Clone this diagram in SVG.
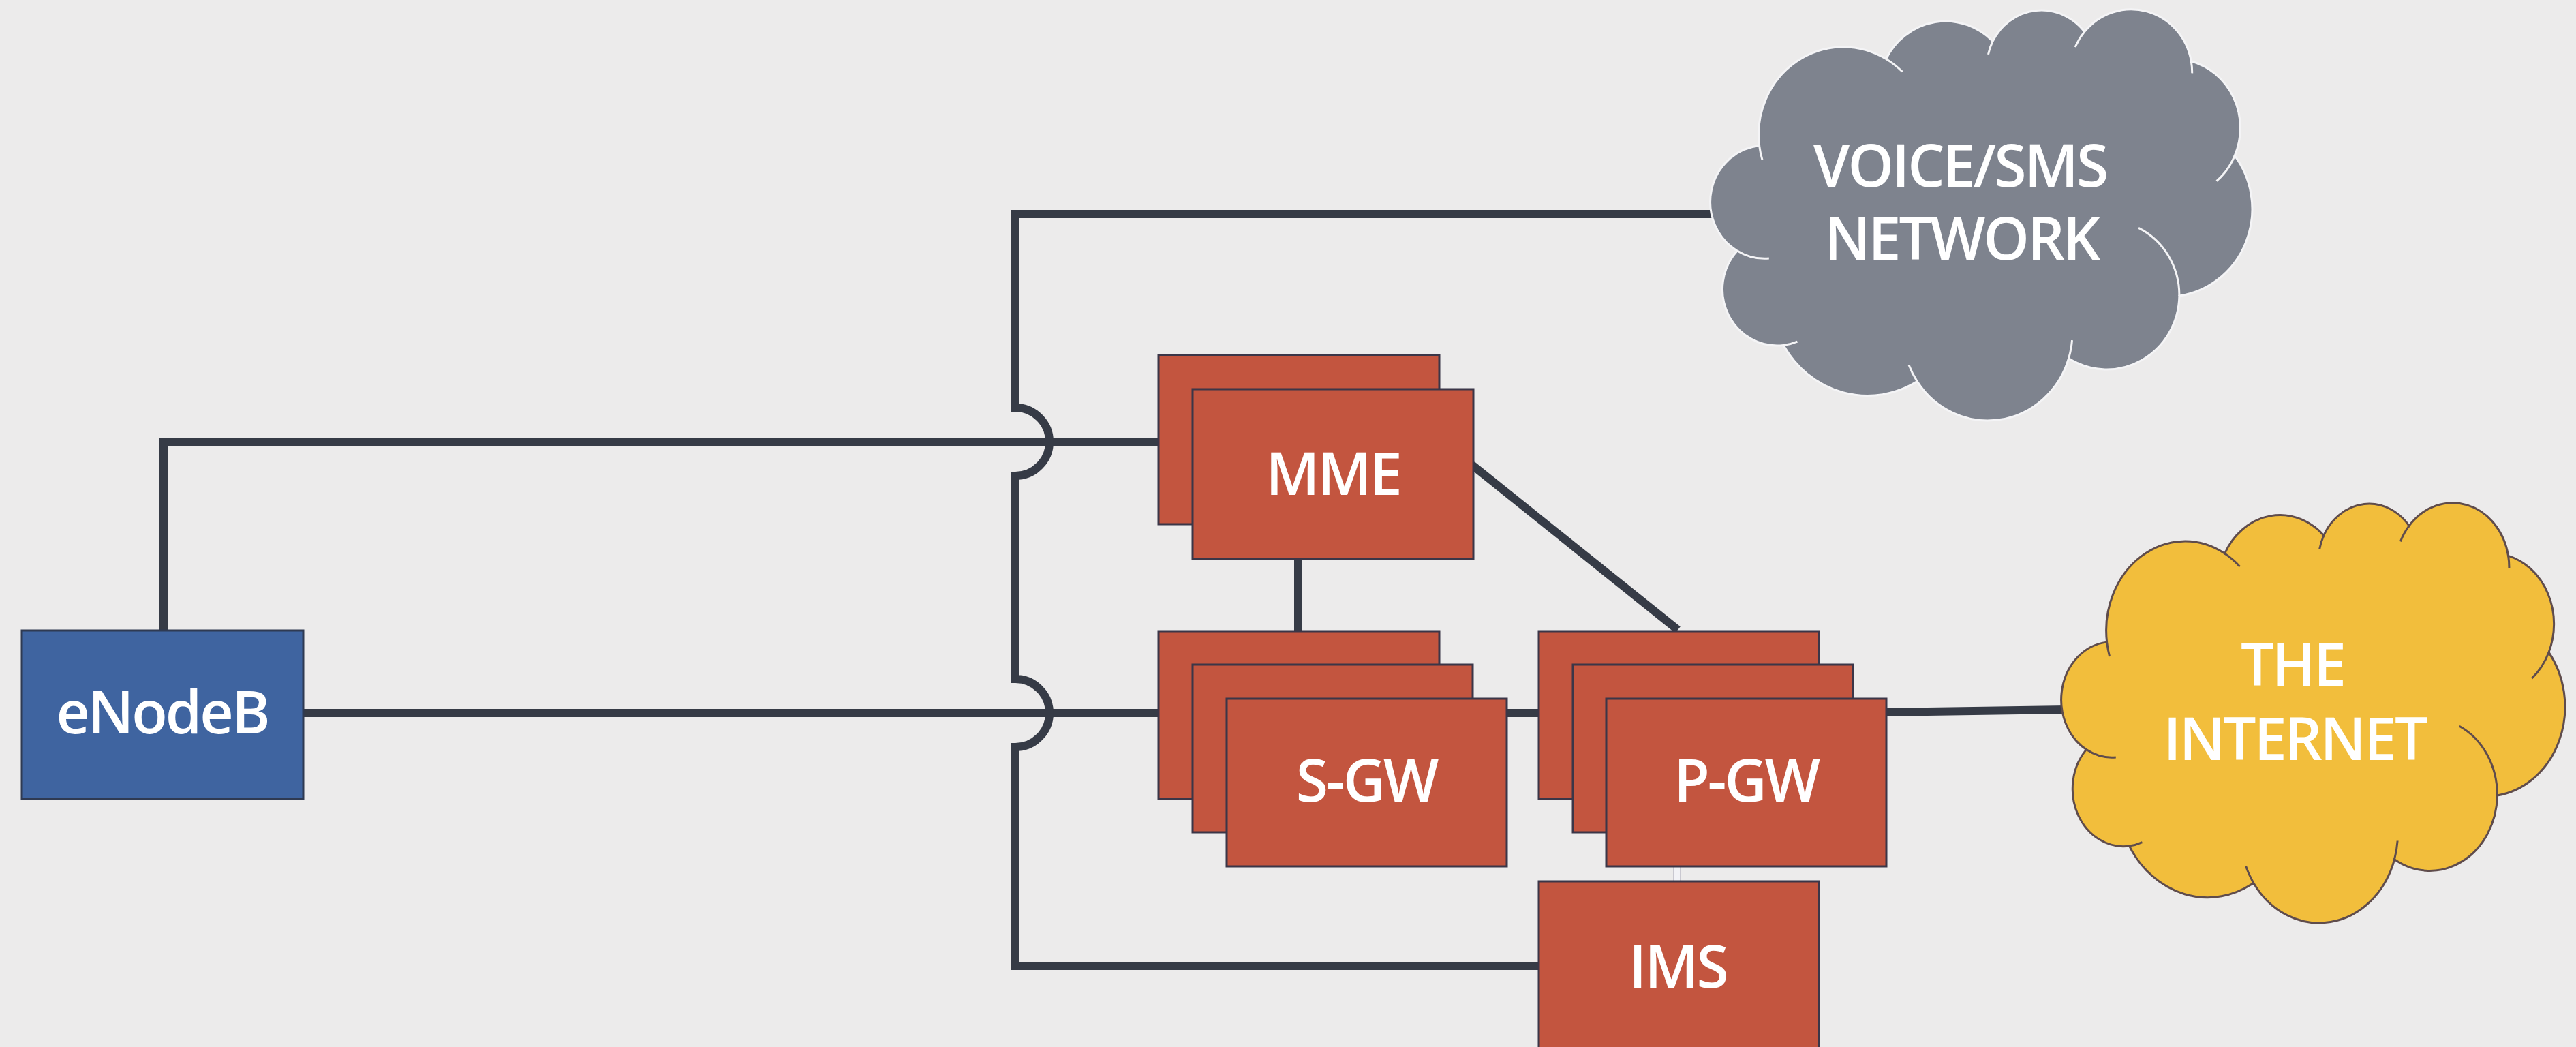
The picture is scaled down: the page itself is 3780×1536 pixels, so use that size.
<svg xmlns="http://www.w3.org/2000/svg" width="3780" height="1536" viewBox="0 0 3780 1536">
  <style>
    .bg { fill: #ecebeb; }
    .wire { fill: none; stroke: #363b46; stroke-width: 12; stroke-linejoin: miter; stroke-linecap: butt; }
    .box-red { fill: #c3553f; stroke: #3b3648; stroke-width: 3; }
    .box-blue { fill: #3f64a0; stroke: #2f3a52; stroke-width: 3; }
    .label { font-family: "Open Sans", "Noto Sans", "DejaVu Sans", sans-serif; font-weight: 600; font-size: 86px; fill: #ffffff; text-anchor: middle; letter-spacing: -3px; }
    .cloud-grey { fill: #7e838e; stroke: #f4f4f6; stroke-width: 3; }
    .cloud-grey-lines { fill: none; stroke: #f4f4f6; stroke-width: 3; }
    .cloud-yellow { fill: #f2be3c; stroke: #5f4c4c; stroke-width: 3; }
    .cloud-yellow-lines { fill: none; stroke: #5f4c4c; stroke-width: 3; }
  </style>
  <defs>
    <!-- cloud outline in a 43200 x 43200 unit frame -->
    <path id="cloud-shape" vector-effect="non-scaling-stroke" d="M 3900 14370 A 6753 9190 0 0 1 14000 5192 A 5333 7267 0 0 1 22500 3331 A 4365 5945 0 0 1 29819 2340 A 4857 6595 0 0 1 38324 5426 A 5333 7273 0 0 1 41798 15354 A 6775 9220 0 0 1 37379 30089 A 5785 7867 0 0 1 28560 36661 A 6752 9215 0 0 1 16478 39090 A 7720 10543 0 0 1 5820 35280 A 4360 5918 0 0 1 2128 25359 A 4345 5945 0 0 1 3878 14316 Z"/>
    <!-- inner lobe strokes of the cloud -->
    <path id="cloud-creases" vector-effect="non-scaling-stroke" d="M 4662 26156 A 4345 5945 0 0 1 2128 25359 M 6928 34899 A 4360 5918 0 0 1 5820 35280 M 16478 39090 A 6752 9215 0 0 1 15811 37350 M 28827 34751 A 6752 9215 0 0 1 28560 36661 M 34129 22954 A 5785 7867 0 0 1 37379 30089 M 41798 15354 A 5333 7273 0 0 1 40349 18031 M 38324 5426 A 4857 6595 0 0 1 38400 6689 M 29078 3952 A 4857 6595 0 0 1 29819 2340 M 22141 4720 A 4365 5945 0 0 1 22500 3331 M 14000 5192 A 6753 9190 0 0 1 15300 6541 M 4127 15789 A 6753 9190 0 0 1 3900 14370"/>
  </defs>

  <rect class="bg" x="0" y="0" width="3780" height="1536"/>

  <!-- connectors -->
  <g id="connectors">
    <path class="wire" d="M 240 925 V 648 H 1700"/>
    <path class="wire" d="M 445 1046 H 1700"/>
    <path class="wire" d="M 2514 314 H 1490 V 598 A 50 50 0 0 1 1490 698 V 996 A 50 50 0 0 1 1490 1096 V 1417 H 2258"/>
    <path class="wire" d="M 1905 820 V 926"/>
    <path class="wire" d="M 2160 682 L 2462 924"/>
    <path class="wire" d="M 2211 1046 H 2258"/>
    <path class="wire" d="M 2768 1045 L 3032 1041"/>
    <line x1="2461" y1="1270" x2="2461" y2="1293" stroke="#c9c8d0" stroke-width="12"/>
    <line x1="2461" y1="1270" x2="2461" y2="1293" stroke="#f2f2f6" stroke-width="8"/>
  </g>

  <g id="enodeb">
    <rect class="box-blue" x="32" y="925" width="413" height="247"/>
    <text class="label" x="238" y="1076">eNodeB</text>
  </g>

  <g id="mme">
    <rect class="box-red" x="1700" y="521" width="412" height="248"/>
    <rect class="box-red" x="1750" y="571" width="412" height="249"/>
    <text class="label" x="1956" y="726">MME</text>
  </g>

  <g id="sgw">
    <rect class="box-red" x="1700" y="926" width="412" height="246"/>
    <rect class="box-red" x="1750" y="975" width="411" height="246"/>
    <rect class="box-red" x="1800" y="1025" width="411" height="246"/>
    <text class="label" x="2005" y="1176">S-GW</text>
  </g>

  <g id="pgw">
    <rect class="box-red" x="2258" y="926" width="411" height="246"/>
    <rect class="box-red" x="2308" y="975" width="411" height="246"/>
    <rect class="box-red" x="2357" y="1025" width="411" height="246"/>
    <text class="label" x="2562" y="1176">P-GW</text>
  </g>

  <g id="ims">
    <rect class="box-red" x="2258" y="1293" width="411" height="260"/>
    <text class="label" x="2462" y="1449">IMS</text>
  </g>

  <g id="voice-sms-network">
    <g transform="translate(2510 14) scale(0.018403 0.013958)">
      <use href="#cloud-shape" class="cloud-grey"/>
      <use href="#cloud-creases" class="cloud-grey-lines"/>
    </g>
    <text class="label" x="2876" y="274">VOICE/SMS</text>
    <text class="label" x="2878" y="381">NETWORK</text>
  </g>

  <g id="internet">
    <g transform="translate(3025 738) scale(0.017106 0.014259)">
      <use href="#cloud-shape" class="cloud-yellow"/>
      <use href="#cloud-creases" class="cloud-yellow-lines"/>
    </g>
    <text class="label" x="3364" y="1006">THE</text>
    <text class="label" x="3367" y="1115">INTERNET</text>
  </g>
</svg>
